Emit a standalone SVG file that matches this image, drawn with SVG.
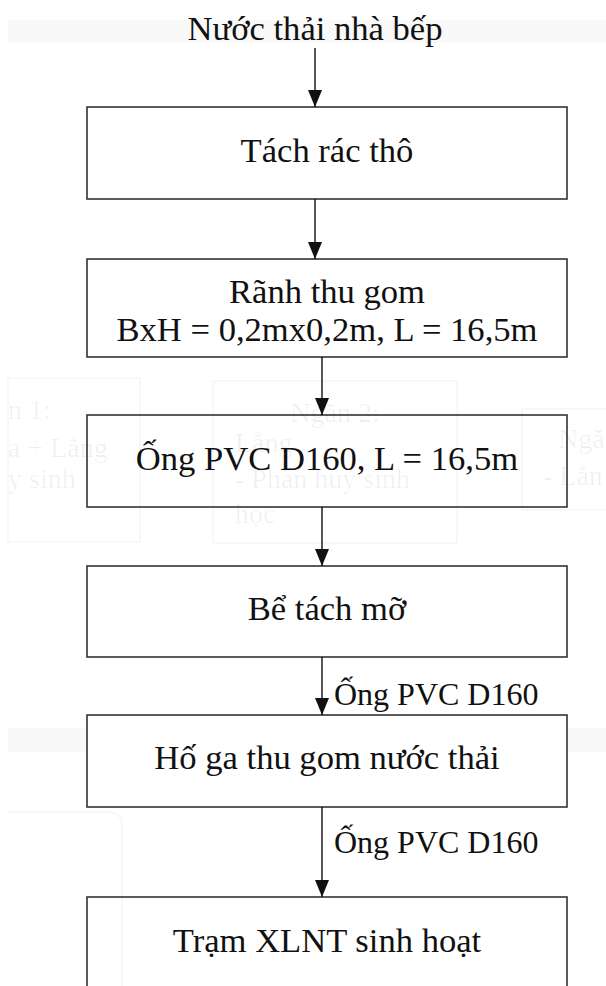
<svg xmlns="http://www.w3.org/2000/svg" width="606" height="986" viewBox="0 0 606 986">
  <style>
    .box { fill: #ffffff; stroke: #333333; stroke-width: 1.6; }
    .t { font-family: "Liberation Serif", "Times New Roman", serif; font-size: 34.6px; fill: #111111; text-anchor: middle; }
    .lbl { font-family: "Liberation Serif", "Times New Roman", serif; font-size: 32px; fill: #111111; }
    .edge { stroke: #111111; stroke-width: 1.4; fill: none; marker-end: url(#arrow); }
    .ghost-box { fill: none; stroke: #000000; stroke-opacity: 0.04; stroke-width: 1.5; }
    .ghost-t { font-family: "Liberation Serif", "Times New Roman", serif; font-size: 28px; fill: #000000; fill-opacity: 0.06; }
  </style>
  <defs>
    <marker id="arrow" viewBox="0 0 17 14" markerWidth="17" markerHeight="14" refX="17" refY="7" orient="auto" markerUnits="userSpaceOnUse">
      <path d="M0,0 L17,7 L0,14 Z" fill="#111111"/>
    </marker>
  </defs>

  <rect width="606" height="986" fill="#ffffff"/>

  <!-- faint background bands -->
  <rect x="8" y="20" width="598" height="23" fill="#000000" fill-opacity="0.022"/>
  <rect x="8" y="728" width="598" height="24" fill="#000000" fill-opacity="0.022"/>

  <!-- title -->
  <g id="title">
    <text class="t" x="315" y="40">Nước thải nhà bếp</text>
  </g>

  <!-- process boxes -->
  <g id="n1">
    <rect class="box" x="87" y="107" width="480" height="92"/>
    <text class="t" x="327" y="162">Tách rác thô</text>
  </g>
  <g id="n2">
    <rect class="box" x="87" y="259" width="480" height="98"/>
    <text class="t" x="327" y="303">Rãnh thu gom</text>
    <text class="t" x="327" y="341">BxH = 0,2mx0,2m, L = 16,5m</text>
  </g>
  <g id="n3">
    <rect class="box" x="87" y="415" width="480" height="92"/>
    <text class="t" x="327" y="470">Ống PVC D160, L = 16,5m</text>
  </g>
  <g id="n4">
    <rect class="box" x="87" y="566" width="480" height="91"/>
    <text class="t" x="327" y="620">Bể tách mỡ</text>
  </g>
  <g id="n5">
    <rect class="box" x="87" y="715" width="480" height="92"/>
    <text class="t" x="327" y="769">Hố ga thu gom nước thải</text>
  </g>
  <g id="n6">
    <rect class="box" x="87" y="897" width="480" height="100"/>
    <text class="t" x="327" y="952">Trạm XLNT sinh hoạt</text>
  </g>

  <!-- connectors -->
  <g id="edges">
    <line class="edge" x1="315" y1="48" x2="315" y2="107"/>
    <line class="edge" x1="315" y1="199" x2="315" y2="259"/>
    <line class="edge" x1="322" y1="357" x2="322" y2="415"/>
    <line class="edge" x1="322" y1="507" x2="322" y2="566"/>
    <line class="edge" x1="322" y1="657" x2="322" y2="715"/>
    <line class="edge" x1="322" y1="807" x2="322" y2="897"/>
    <text class="lbl" x="334" y="705">Ống PVC D160</text>
    <text class="lbl" x="334" y="853">Ống PVC D160</text>
  </g>

  <!-- faint overlay layer -->
  <g id="overlay">
    <rect class="ghost-box" x="8" y="378" width="132" height="164"/>
    <text class="ghost-t" x="8" y="419">n 1:</text>
    <text class="ghost-t" x="8" y="457">a + Lắng</text>
    <text class="ghost-t" x="8" y="488">y sinh</text>
    <rect class="ghost-box" x="213" y="381" width="244" height="162"/>
    <text class="ghost-t" x="335" y="422" text-anchor="middle">Ngăn 2:</text>
    <text class="ghost-t" x="235" y="452">Lắng</text>
    <text class="ghost-t" x="235" y="488">- Phân huỷ sinh</text>
    <text class="ghost-t" x="235" y="523">học</text>
    <rect class="ghost-box" x="522" y="409" width="90" height="101"/>
    <text class="ghost-t" x="558" y="448">Ngă</text>
    <text class="ghost-t" x="543" y="485">- Lắn</text>
    <path class="ghost-box" d="M8,812 H108 Q122,812 122,826 V986"/>
  </g>
</svg>
